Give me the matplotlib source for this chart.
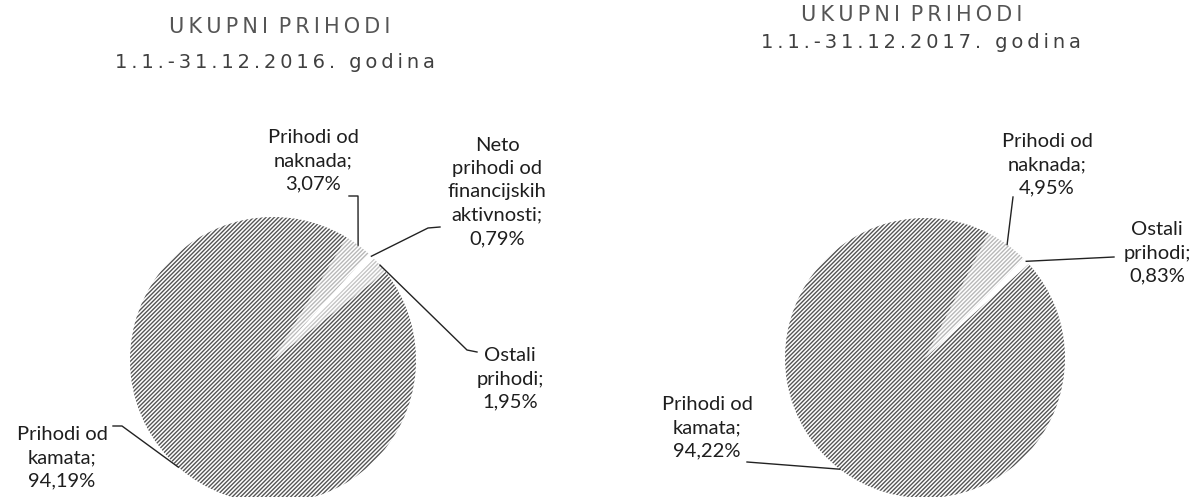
import numpy as np
import matplotlib.pyplot as plt

# === DATA ===
W, H = 1200, 497

cats_2016 = ["Prihodi od\nnaknada", "Neto\nprihodi od\nfinancijskih\naktivnosti",
             "Ostali\nprihodi", "Prihodi od\nkamata"]
vals_2016 = [3.07, 0.79, 1.95, 94.19]

cats_2017 = ["Prihodi od\nnaknada", "Ostali\nprihodi", "Prihodi od\nkamata"]
vals_2017 = [4.95, 0.83, 94.22]

title_main = "UKUPNI PRIHODI"
periods = ["1.1.-31.12.2016. godina", "1.1.-31.12.2017. godina"]

# === LAYOUT (pixel coords, y from top) ===
pies = [
    dict(vals=vals_2016, cats=cats_2016, center=(273, 360), r=143, start=59,
         hatch=["////////", "", "////////", "////////"],
         hcol=["#b8b8b8", "#e6e6e6", "#c4c4c4", "#555555"],
         # text centre, start of leader line, elbow
         labels=[((313, 161), (349, 196), (358, 196)),
                 ((497, 192), (440, 227), (428, 228)),
                 ((510, 379), (477, 352), (467, 350)),
                 ((62, 458), (113, 426), (122, 426))],
         title_pos=(280, 27), period_pos=(275, 62)),
    dict(vals=vals_2017, cats=cats_2017, center=(925, 358), r=140, start=63,
         hatch=["////////", "", "////////"],
         hcol=["#b8b8b8", "#e6e6e6", "#555555"],
         labels=[((1047, 165), (1013, 197), None),
                 ((1157, 253), (1114, 257), None),
                 ((707, 428), (747, 462), None)],
         title_pos=(912, 15), period_pos=(921, 43)),
]


def py(y):
    return H - y


def pct(v):
    return f"{v:.2f}".replace(".", ",") + "%"


plt.rcParams['hatch.linewidth'] = 1.0

fig = plt.figure(figsize=(12, 4.97), dpi=100)
ax = fig.add_axes([0, 0, 1, 1])

for p in pies:
    cx, cy = p["center"]
    wedges, _ = ax.pie(p["vals"], center=(cx, py(cy)), radius=p["r"],
                       startangle=p["start"], counterclock=False,
                       colors=["white"] * len(p["vals"]),
                       wedgeprops=dict(linewidth=0))
    for w, h, c in zip(wedges, p["hatch"], p["hcol"]):
        w.set_hatch(h)
        w.set_edgecolor(c)
        w.set_linewidth(0)

    # labels with leader lines ending on the slice edge
    for w, cat, v, (tpos, lstart, elbow) in zip(wedges, p["cats"], p["vals"], p["labels"]):
        ang = np.deg2rad((w.theta1 + w.theta2) / 2)
        ex = cx + p["r"] * np.cos(ang)
        ey = py(cy) + p["r"] * np.sin(ang)
        xs = [lstart[0]]
        ys = [py(lstart[1])]
        if elbow is not None:
            xs.append(elbow[0])
            ys.append(py(elbow[1]))
        xs.append(ex)
        ys.append(ey)
        ax.plot(xs, ys, color="#222222", lw=1.0)
        ax.text(tpos[0], py(tpos[1]), f"{cat};\n{pct(v)}", ha="center", va="center",
                fontsize=14.5, family="Lato", color="#1e1e1e", linespacing=1.45)

    spaced = "\u2009 ".join("\u2009".join(word) for word in title_main.split())
    ax.text(p["title_pos"][0], py(p["title_pos"][1]), spaced, ha="center", va="center",
            fontsize=15, family="DejaVu Sans", color="#555555")

for p, per in zip(pies, periods):
    ax.text(p["period_pos"][0], py(p["period_pos"][1]), "\u2009".join(per),
            ha="center", va="center", fontsize=14, family="DejaVu Sans", color="#404040")

ax.set_xlim(0, W)
ax.set_ylim(0, H)
ax.set_aspect("auto")
ax.axis("off")

fig.savefig("out.png", dpi=100, facecolor="white")
